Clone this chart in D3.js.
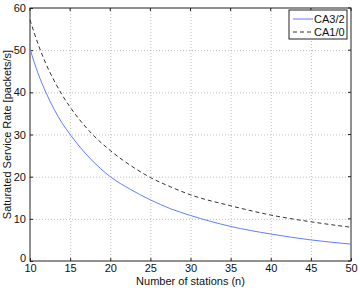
<!DOCTYPE html>
<html>
<head>
<meta charset="utf-8">
<script src="https://cdn.jsdelivr.net/npm/d3@7"></script>
<style>
  body { margin: 0; background: #fff; }
  text { font-family: "Liberation Sans", Arial, sans-serif; }
</style>
</head>
<body>
<div id="chart"></div>
<script>
'use strict';

// Values
const stations = [10, 11, 12, 13, 14, 15, 17.5, 20, 22.5, 25, 27.5, 30, 35, 40, 45, 50];
const ca32 = [50.3, 44.5, 39.9, 36.0, 32.7, 30.0, 24.3, 20.0, 17.0, 14.5, 12.4, 10.8, 8.2, 6.4, 5.0, 4.0];
const ca10 = [57.2, 51.5, 46.7, 42.8, 39.4, 36.5, 30.6, 26.2, 22.7, 19.8, 17.6, 15.7, 13.1, 10.9, 9.3, 8.0];
const xTicks = [10, 15, 20, 25, 30, 35, 40, 45, 50];
const yTicks = [0, 10, 20, 30, 40, 50, 60];
const seriesNames = ["CA3/2", "CA1/0"];

const width = 360;
const height = 288;
const margin = {top: 8, right: 9, bottom: 27, left: 30};

const svg = d3.select("#chart").append("svg")
    .attr("width", width)
    .attr("height", height);

const x = d3.scaleLinear().domain([10, 50]).range([margin.left, width - margin.right]);
const y = d3.scaleLinear().domain([0, 60]).range([height - margin.bottom, margin.top]);

// dotted grid
svg.append("g")
  .selectAll("line")
  .data(xTicks.slice(1, -1))
  .join("line")
    .attr("x1", d => x(d) + 0.5).attr("x2", d => x(d) + 0.5)
    .attr("y1", y(0)).attr("y2", y(60))
    .attr("stroke", "#b0b0b0").attr("stroke-width", 0.8)
    .attr("stroke-dasharray", "1,2");

svg.append("g")
  .selectAll("line")
  .data(yTicks.slice(1, -1))
  .join("line")
    .attr("x1", x(10)).attr("x2", x(50))
    .attr("y1", d => y(d) + 0.5).attr("y2", d => y(d) + 0.5)
    .attr("stroke", "#b0b0b0").attr("stroke-width", 0.8)
    .attr("stroke-dasharray", "1,2");

// axes, ticks pointing inwards
const xAxis = svg.append("g")
    .attr("transform", `translate(0,${y(0)})`)
    .call(d3.axisBottom(x).tickValues(xTicks).tickSize(-3).tickPadding(3));
const yAxis = svg.append("g")
    .attr("transform", `translate(${x(10)},0)`)
    .call(d3.axisLeft(y).tickValues(yTicks).tickSize(-3).tickPadding(4));

[xAxis, yAxis].forEach(g => {
  g.select(".domain").remove();
  g.selectAll("text").attr("font-size", 11).attr("fill", "#111")
    .style("font-family", "'Liberation Sans', Arial, sans-serif");
  g.selectAll("line").attr("stroke", "#222");
});
yAxis.selectAll("text").filter(d => d === 0).attr("dy", "0.05em");

// right and top ticks
svg.append("g").selectAll("line").data(xTicks).join("line")
    .attr("x1", d => x(d)).attr("x2", d => x(d))
    .attr("y1", y(60)).attr("y2", y(60) + 3).attr("stroke", "#222");
svg.append("g").selectAll("line").data(yTicks).join("line")
    .attr("x1", x(50)).attr("x2", x(50) - 3)
    .attr("y1", d => y(d)).attr("y2", d => y(d)).attr("stroke", "#222");

// frame
svg.append("rect")
    .attr("x", x(10)).attr("y", y(60))
    .attr("width", x(50) - x(10)).attr("height", y(0) - y(60))
    .attr("fill", "none").attr("stroke", "#222").attr("stroke-width", 1);

const line = d3.line()
    .x(d => x(d[0]))
    .y(d => y(d[1]))
    .curve(d3.curveMonotoneX);

svg.append("path")
    .datum(d3.zip(stations, ca32))
    .attr("d", line)
    .attr("fill", "none")
    .attr("stroke", "#5f7dff")
    .attr("stroke-width", 1);

svg.append("path")
    .datum(d3.zip(stations, ca10))
    .attr("d", line)
    .attr("fill", "none")
    .attr("stroke", "#333")
    .attr("stroke-width", 1)
    .attr("stroke-dasharray", "4,3");

// axis labels
svg.append("text")
    .attr("x", (x(10) + x(50)) / 2)
    .attr("y", 284.5)
    .attr("text-anchor", "middle")
    .attr("font-size", 11)
    .attr("fill", "#111")
    .text("Number of stations (n)");

svg.append("text")
    .attr("transform", `translate(11,${(y(0) + y(60)) / 2}) rotate(-90)`)
    .attr("text-anchor", "middle")
    .attr("font-size", 11)
    .attr("fill", "#111")
    .text("Saturated Service Rate [packets/s]");

// legend
const legend = svg.append("g").attr("transform", "translate(289,10)");
legend.append("rect")
    .attr("width", 58).attr("height", 29)
    .attr("fill", "#fff").attr("stroke", "#222");

const legendStyles = [
  {stroke: "#5f7dff", dash: null},
  {stroke: "#333", dash: "4,3"}
];

seriesNames.forEach((name, i) => {
  const row = legend.append("g").attr("transform", `translate(0,${9 + i * 13})`);
  row.append("line")
      .attr("x1", 4).attr("x2", 24)
      .attr("stroke", legendStyles[i].stroke)
      .attr("stroke-dasharray", legendStyles[i].dash);
  row.append("text")
      .attr("x", 25).attr("dy", "0.35em")
      .attr("font-size", 11).attr("fill", "#111")
      .text(name);
});
</script>
</body>
</html>
